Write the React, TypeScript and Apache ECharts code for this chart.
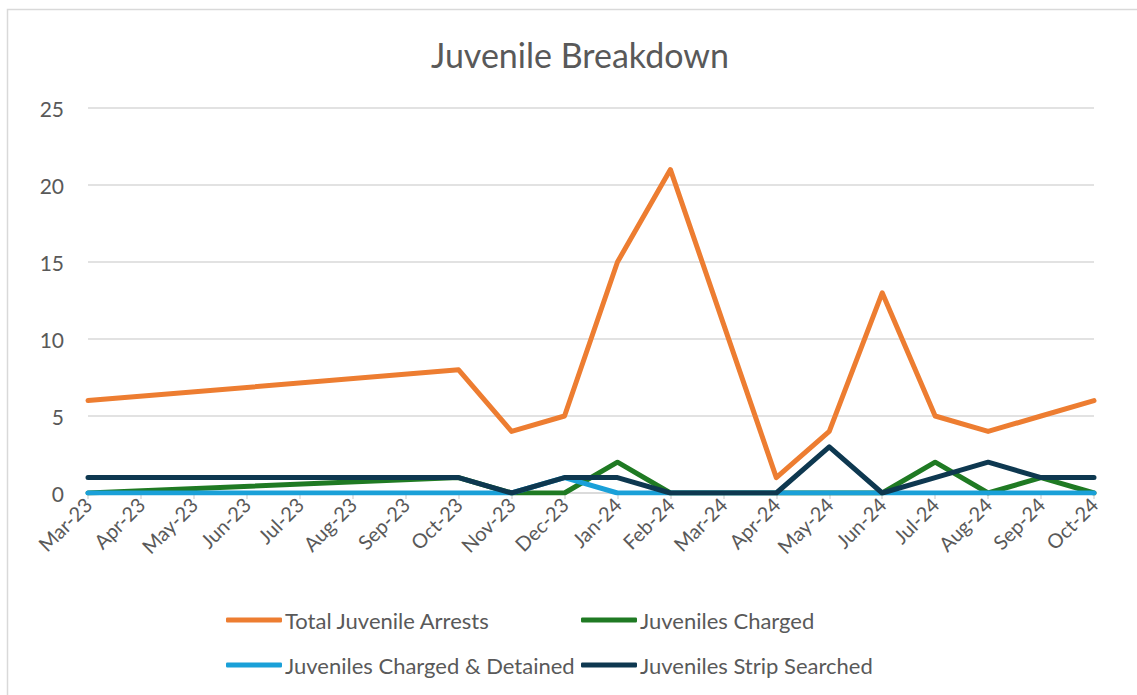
import React, { useEffect, useRef } from "react";
import * as echarts from "echarts";

const months = ["Mar-23","Apr-23","May-23","Jun-23","Jul-23","Aug-23","Sep-23","Oct-23","Nov-23","Dec-23","Jan-24","Feb-24","Mar-24","Apr-24","May-24","Jun-24","Jul-24","Aug-24","Sep-24","Oct-24"];
const totalArrests = [6,null,null,null,null,null,null,8,4,5,15,21,11,1,4,13,5,4,5,6];
const charged = [0,null,null,null,null,null,null,1,0,0,2,0,0,0,0,0,2,0,1,0];
const chargedDetained = [0,null,null,null,null,null,null,0,0,1,0,0,0,0,0,0,0,0,0,0];
const stripSearched = [1,null,null,null,null,null,null,1,0,1,1,0,0,0,3,0,1,2,1,1];
const yTicks = [0, 5, 10, 15, 20, 25];

const names = ["Total Juvenile Arrests","Juveniles Charged","Juveniles Charged & Detained","Juveniles Strip Searched"];
const colors = ["#ED7D31","#1F7A23","#1AA0D8","#0E3850"];
const values = [totalArrests, charged, chargedDetained, stripSearched];

const FONT = "Lato, 'Open Sans', sans-serif";
const TEXT = "#595959";

export default function App() {
  const ref = useRef<HTMLDivElement>(null);
  useEffect(() => {
    if (!ref.current) return;
    const chart = echarts.init(ref.current, null, { renderer: "svg" });
    const legendPos = [
      { left: 226, top: 609 },
      { left: 581, top: 609 },
      { left: 226, top: 654 },
      { left: 581, top: 654 },
    ];
    chart.setOption({
      animation: false,
      backgroundColor: "#ffffff",
      textStyle: { fontFamily: FONT },
      title: {
        text: "Juvenile Breakdown",
        left: 426,
        top: 32,
        textStyle: { fontFamily: FONT, fontSize: 34, fontWeight: "normal", color: TEXT },
      },
      graphic: [
        {
          type: "rect",
          shape: { x: 7.5, y: 9.5, width: 1200, height: 800 },
          style: { fill: "none", stroke: "#D9D9D9", lineWidth: 1.5 },
          silent: true,
        },
      ],
      legend: names.map((n, i) => ({
        data: [n],
        left: legendPos[i].left,
        top: legendPos[i].top,
        icon: "roundRect",
        itemWidth: 56,
        itemHeight: 5,
        itemGap: 0,
        padding: 0,
        selectedMode: false,
        textStyle: { fontFamily: FONT, fontSize: 22, color: TEXT, padding: [0, 0, 0, -2] },
      })),
      grid: { left: 88, right: 43, top: 108, bottom: 202, containLabel: false },
      xAxis: {
        type: "category",
        data: months,
        boundaryGap: false,
        axisLine: { lineStyle: { color: "#D9D9D9", width: 1.5 } },
        axisTick: { show: true, alignWithLabel: true, length: 6, lineStyle: { color: "#D9D9D9", width: 1.5 } },
        axisLabel: { rotate: 45, fontSize: 20, color: TEXT, margin: 8, interval: 0, fontFamily: FONT },
        splitLine: { show: false },
      },
      yAxis: {
        type: "value",
        min: 0,
        max: yTicks[yTicks.length - 1],
        interval: 5,
        axisLine: { show: false },
        axisTick: { show: false },
        axisLabel: { fontSize: 21, color: TEXT, margin: 24, fontFamily: FONT },
        splitLine: { lineStyle: { color: "#D9D9D9", width: 1.5 } },
      },
      series: names.map((n, i) => ({
        name: n,
        type: "line",
        data: values[i],
        connectNulls: true,
        showSymbol: false,
        symbol: "none",
        lineStyle: { color: colors[i], width: 5, cap: "round", join: "round" },
        itemStyle: { color: colors[i] },
      })),
    });
    return () => chart.dispose();
  }, []);
  return <div ref={ref} style={{ position: "absolute", left: 0, top: 0, width: 1137, height: 695 }} />;
}
